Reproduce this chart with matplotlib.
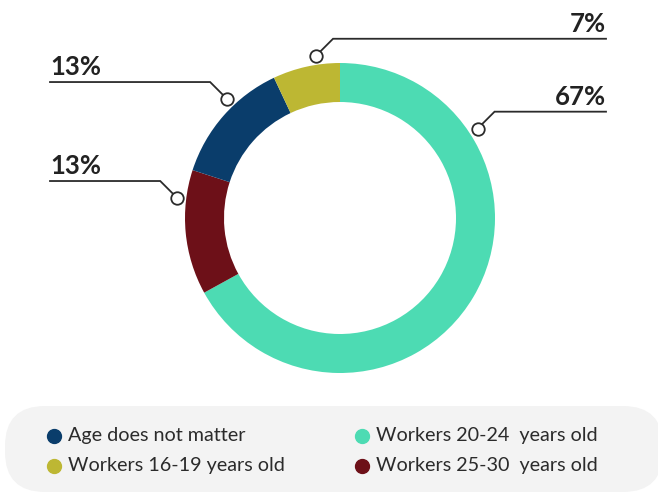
import numpy as np
import matplotlib.pyplot as plt
from matplotlib.patches import FancyBboxPatch

plt.rcParams['font.family'] = ['Lato', 'DejaVu Sans']

categories = ['Workers 20-24  years old', 'Workers 25-30  years old',
              'Age does not matter', 'Workers 16-19 years old']
shares = [67, 13, 13, 7]
colors = ['#4ddbb3', '#6d1018', '#0a3d6b', '#bdb733']

# where each leader line leaves the ring (degrees clockwise from 12 o'clock)
label_angles = [57, 277, 316.5, 351.6]
label_sides = ['right', 'left', 'left', 'right']

W, H = 658, 493
fig = plt.figure(figsize=(W / 100, H / 100), dpi=100)
ax = fig.add_axes([0, 0, 1, 1])

cx, cy, R = 340, H - 218, 155
ax.pie(shares, colors=colors, startangle=90, counterclock=False,
       radius=R, center=(cx, cy),
       wedgeprops=dict(width=39, linewidth=0))

ax.set_xlim(0, W)
ax.set_ylim(0, H)
ax.set_aspect('equal')
ax.axis('off')

# leader lines with percentage labels
line_col = '#2b2b2b'
rise = 17
for v, ang, side in zip(shares, label_angles, label_sides):
    t = np.deg2rad(ang)
    mx = cx + (R + 9) * np.sin(t)
    my = cy + (R + 9) * np.cos(t)
    d = 1 if side == 'right' else -1
    kx, ky = mx + d * rise, my + rise
    ex = 606 if side == 'right' else 50
    ax.plot([mx, kx, ex], [my, ky, ky], color=line_col, lw=1.3,
            solid_joinstyle='miter', zorder=3)
    ax.plot(mx, my, 'o', ms=9, mfc='white', mec=line_col, mew=1.3, zorder=4)
    ax.text(ex, ky + 3, f'{v}%', ha=side, va='bottom',
            fontsize=18.5, fontweight='bold', color='#222222')

# legend panel
panel = FancyBboxPatch((5, 1), 658, 86,
                       boxstyle='round,pad=0,rounding_size=40',
                       fc='#f3f3f3', ec='none', zorder=1)
ax.add_patch(panel)

legend_order = [2, 0, 3, 1]
col_x = [54, 362]
row_y = [H - 436, H - 466]
for k, i in enumerate(legend_order):
    x = col_x[k % 2]
    y = row_y[k // 2]
    ax.plot(x, y, 'o', ms=10, color=colors[i], zorder=3)
    ax.text(x + 14, y, categories[i], ha='left', va='center',
            fontsize=14.2, color='#2b2b2b', zorder=3)

fig.savefig('out.png', dpi=100)
